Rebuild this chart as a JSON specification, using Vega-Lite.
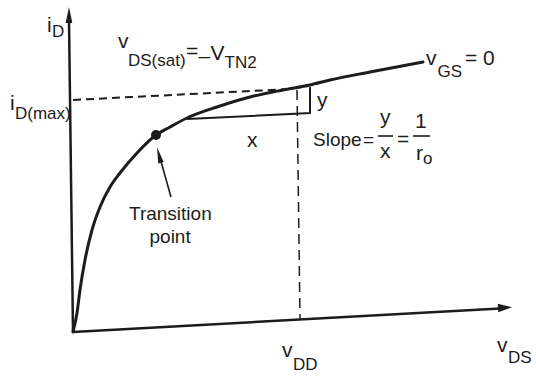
{
  "$schema": "https://vega.github.io/schema/vega-lite/v6.json",
  "width": 536,
  "height": 376,
  "autosize": {"type": "fit", "contains": "padding"},
  "padding": 0,
  "background": "white",
  "config": {
    "view": {"stroke": null},
    "text": {"font": "Liberation Sans, Arial", "color": "#1c1c1c"}
  },
  "encoding": {
    "x": {"field": "x", "type": "quantitative", "scale": {"domain": [-7.3, 46.3], "nice": false, "zero": false}, "axis": null},
    "y": {"field": "y", "type": "quantitative", "scale": {"domain": [-4.4, 33.2], "nice": false, "zero": false}, "axis": null}
  },
  "layer": [
    {
      "description": "v_DS and i_D axes",
      "data": {"values": [
        {"seg": "iD", "k": 0, "x": 0, "y": 0},
        {"seg": "iD", "k": 1, "x": -0.4, "y": 31.2},
        {"seg": "vDS", "k": 0, "x": 0, "y": 0},
        {"seg": "vDS", "k": 1, "x": 42.7, "y": 2.35}
      ]},
      "mark": {"type": "line", "color": "#1c1c1c", "strokeWidth": 2.5},
      "encoding": {"detail": {"field": "seg"}, "order": {"field": "k", "type": "quantitative"}}
    },
    {
      "description": "arrowhead on the i_D axis",
      "data": {"values": [{"x": -0.4, "y": 31.7}]},
      "mark": {"type": "point", "shape": "M0,-1L0.42,1L-0.42,1Z", "size": 256, "filled": true, "opacity": 1, "color": "#1c1c1c"}
    },
    {
      "description": "arrowhead on the v_DS axis",
      "data": {"values": [{"x": 43.2, "y": 2.43}]},
      "mark": {"type": "point", "shape": "M1,0L-1,-0.6L-1,0.6Z", "size": 196, "angle": -3, "filled": true, "opacity": 1, "color": "#1c1c1c"}
    },
    {
      "description": "i_D(max) level",
      "data": {"values": [{"k": 0, "x": 0, "y": 23.2}, {"k": 1, "x": 21.7, "y": 24.3}]},
      "mark": {"type": "line", "color": "#1c1c1c", "strokeWidth": 2, "strokeDash": [8, 5]},
      "encoding": {"order": {"field": "k", "type": "quantitative"}}
    },
    {
      "description": "v_DD level",
      "data": {"values": [{"k": 0, "x": 22.4, "y": 24.2}, {"k": 1, "x": 22.7, "y": 1.3}]},
      "mark": {"type": "line", "color": "#1c1c1c", "strokeWidth": 1.5, "strokeDash": [10, 6]},
      "encoding": {"order": {"field": "k", "type": "quantitative"}}
    },
    {
      "description": "slope triangle",
      "data": {"values": [
        {"k": 0, "x": 11.4, "y": 21.3},
        {"k": 1, "x": 23.7, "y": 21.9},
        {"k": 2, "x": 23.7, "y": 24.5}
      ]},
      "mark": {"type": "line", "color": "#1c1c1c", "strokeWidth": 2},
      "encoding": {"order": {"field": "k", "type": "quantitative"}}
    },
    {
      "description": "fraction bars and the transition pointer shaft",
      "data": {"values": [
        {"seg": "yx", "k": 0, "x": 30.5, "y": 19.6},
        {"seg": "yx", "k": 1, "x": 32.0, "y": 19.6},
        {"seg": "ro", "k": 0, "x": 34.0, "y": 19.6},
        {"seg": "ro", "k": 1, "x": 35.7, "y": 19.6},
        {"seg": "ptr", "k": 0, "x": 9.8, "y": 13.5},
        {"seg": "ptr", "k": 1, "x": 8.7, "y": 17.4}
      ]},
      "mark": {"type": "line", "color": "#1c1c1c", "strokeWidth": 1.6},
      "encoding": {"detail": {"field": "seg"}, "order": {"field": "k", "type": "quantitative"}}
    },
    {
      "description": "transition pointer head",
      "data": {"values": [{"x": 8.6, "y": 17.7}]},
      "mark": {"type": "point", "shape": "M0,-1L0.35,1L-0.35,1Z", "size": 256, "angle": -14, "filled": true, "opacity": 1, "color": "#1c1c1c"}
    },
    {
      "description": "i_D versus v_DS for v_GS = 0",
      "data": {"values": [
        {"x": 0.0, "y": 0.0},
        {"x": 0.4, "y": 1.9},
        {"x": 0.7, "y": 4.2},
        {"x": 1.2, "y": 7.2},
        {"x": 1.9, "y": 10.2},
        {"x": 2.7, "y": 12.5},
        {"x": 3.7, "y": 14.5},
        {"x": 4.7, "y": 15.9},
        {"x": 6.4, "y": 17.9},
        {"x": 8.3, "y": 19.7},
        {"x": 9.7, "y": 20.5},
        {"x": 11.4, "y": 21.4},
        {"x": 14.4, "y": 22.5},
        {"x": 17.7, "y": 23.5},
        {"x": 21.0, "y": 24.2},
        {"x": 23.7, "y": 24.7},
        {"x": 25.7, "y": 25.2},
        {"x": 29.7, "y": 26.0},
        {"x": 35.0, "y": 27.0}
      ]},
      "mark": {"type": "line", "interpolate": "monotone", "color": "#1c1c1c", "strokeWidth": 3, "strokeCap": "round"}
    },
    {
      "description": "transition point",
      "data": {"values": [{"x": 8.3, "y": 19.7}]},
      "mark": {"type": "point", "shape": "circle", "size": 100, "filled": true, "opacity": 1, "color": "#1c1c1c"}
    },
    {
      "description": "symbols",
      "data": {"values": [
        {"t": "i", "x": -2.6, "y": 30.0},
        {"t": "i", "x": -6.3, "y": 22.2},
        {"t": "v", "x": 4.5, "y": 28.4},
        {"t": "=", "x": 11.3, "y": 27.4},
        {"t": "–", "x": 12.55, "y": 26.9},
        {"t": "V", "x": 13.75, "y": 27.2},
        {"t": "v", "x": 35.3, "y": 26.7},
        {"t": "= 0", "x": 39.2, "y": 26.7},
        {"t": "y", "x": 24.4, "y": 22.5},
        {"t": "x", "x": 17.4, "y": 18.5},
        {"t": "y", "x": 30.7, "y": 20.8},
        {"t": "x", "x": 30.7, "y": 17.4},
        {"t": "=", "x": 32.4, "y": 18.6},
        {"t": "1", "x": 34.2, "y": 20.4},
        {"t": "r", "x": 34.3, "y": 17.2},
        {"t": "v", "x": 20.9, "y": -2.5},
        {"t": "v", "x": 42.4, "y": -2.0}
      ]},
      "mark": {"type": "text", "align": "left", "baseline": "alphabetic", "fontSize": 21},
      "encoding": {"text": {"field": "t"}}
    },
    {
      "description": "words",
      "data": {"values": [
        {"t": "Slope", "x": 24.0, "y": 18.6},
        {"t": "=", "x": 29.0, "y": 18.6},
        {"t": "Transition", "x": 5.6, "y": 11.2},
        {"t": "point", "x": 7.65, "y": 8.9}
      ]},
      "mark": {"type": "text", "align": "left", "baseline": "alphabetic", "fontSize": 19},
      "encoding": {"text": {"field": "t"}}
    },
    {
      "description": "subscripts",
      "data": {"values": [
        {"t": "D", "x": -2.1, "y": 29.5},
        {"t": "D(max)", "x": -5.8, "y": 21.3},
        {"t": "DS(sat)", "x": 5.5, "y": 26.6},
        {"t": "TN2", "x": 15.15, "y": 26.4},
        {"t": "GS", "x": 36.45, "y": 25.5},
        {"t": "o", "x": 35.0, "y": 16.8},
        {"t": "DD", "x": 22.0, "y": -3.8},
        {"t": "DS", "x": 43.5, "y": -3.1}
      ]},
      "mark": {"type": "text", "align": "left", "baseline": "alphabetic", "fontSize": 17},
      "encoding": {"text": {"field": "t"}}
    }
  ]
}
